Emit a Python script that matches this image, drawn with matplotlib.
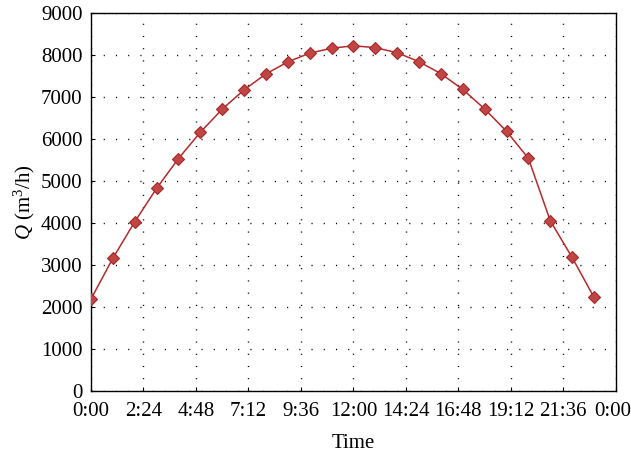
import numpy as np
import matplotlib
matplotlib.use("Agg")
import matplotlib.pyplot as plt
from matplotlib.transforms import ScaledTranslation

plt.rcParams['font.family'] = ['Liberation Serif', 'DejaVu Serif']
plt.rcParams['mathtext.fontset'] = 'custom'
plt.rcParams['mathtext.rm'] = 'Liberation Serif'
plt.rcParams['mathtext.it'] = 'Liberation Serif:italic'

# hourly flow
hours = list(range(24))
flow = [2190, 3160, 4030, 4825, 5535, 6160, 6710, 7170, 7550, 7835,
        8045, 8160, 8220, 8175, 8055, 7840, 7555, 7180, 6715, 6185,
        5540, 4055, 3180, 2230]

tick_pos = [0, 2.4, 4.8, 7.2, 9.6, 12, 14.4, 16.8, 19.2, 21.6, 24]
tick_labels = ['0:00', '2:24', '4:48', '7:12', '9:36', '12:00',
               '14:24', '16:48', '19:12', '21:36', '0:00']

fig = plt.figure(figsize=(6.31, 4.53), dpi=100)
ax = fig.add_axes([0.1442, 0.1369, 0.976 - 0.1442, 0.9713 - 0.1369])

ax.plot(hours, flow, color='#b52a2a', linewidth=1.1, marker='D', markersize=6.5,
        markerfacecolor='#c04545', markeredgecolor='#a82828', markeredgewidth=0.8,
        zorder=3)

ax.set_xlim(0, 24)
ax.set_ylim(0, 9000)
ax.set_xticks(tick_pos)
ax.set_xticklabels(tick_labels)
ax.set_yticks(np.arange(0, 9001, 1000))

ax.grid(True, color='black', linestyle=(0, (0.8, 8)), linewidth=1.0)
ax.tick_params(direction='in', length=3, labelsize=15)
ax.tick_params(axis='x', pad=8)
ax.tick_params(axis='y', pad=6)
for s in ax.spines.values():
    s.set_linewidth(1.0)

# keep the last label inside the figure
last = ax.get_xticklabels()[-1]
last.set_transform(last.get_transform() + ScaledTranslation(-2 / 72, 0, fig.dpi_scale_trans))

ax.set_xlabel('Time', fontsize=15, labelpad=9)
ax.set_ylabel(r'$Q$ (m$^3$/h)', fontsize=15, labelpad=3)

fig.savefig('out.png', dpi=100)
